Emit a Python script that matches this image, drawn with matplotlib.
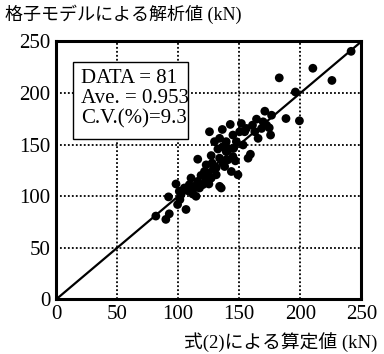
import matplotlib
matplotlib.use("Agg")
import matplotlib.pyplot as plt
from matplotlib.patches import Rectangle

# Data (kN)
calc_x = [81.7, 89.9, 92.7, 92.1, 98.2, 101.4, 106.4, 105.0, 107.8, 110.5,
          113.3, 114.6, 116.0, 118.7, 121.5, 122.9, 125.1, 127.0, 128.9, 131.1,
          133.9, 135.2, 111.9, 109.1, 102.3,
          116.0, 125.6, 127.0, 129.7, 132.5, 133.9, 136.1, 136.6, 138.0, 139.3,
          140.7, 142.6, 143.5, 144.8, 145.4, 146.8, 148.9, 150.3, 151.7, 153.1,
          154.4, 157.2, 159.1, 136.6, 131.1, 127.8, 139.3, 147.6,
          164.1, 165.4, 168.2, 170.9, 172.3, 174.5, 175.6, 176.4, 160.8, 155.8,
          188.2, 199.2, 195.9, 182.7, 210.2, 225.8, 241.5,
          100.9, 117.4, 120.1, 124.2, 122.9, 140.7, 133.9, 144.8, 162.7, 169.5, 99.5]
anal_y = [80.8, 77.6, 83.0, 99.4, 111.9, 96.8, 87.2, 108.0, 105.4, 117.6,
          108.0, 100.0, 114.4, 120.2, 124.0, 116.0, 111.9, 117.6, 126.6, 120.8,
          109.6, 108.0, 102.2, 111.2, 101.6,
          135.9, 162.5, 139.4, 152.9, 145.8, 136.9, 164.7, 132.1, 128.8, 143.3,
          135.3, 169.6, 124.0, 159.3, 146.5, 134.3, 120.8, 162.5, 170.5, 149.7,
          162.5, 136.9, 140.7, 148.1, 127.6, 132.1, 152.9, 152.9,
          174.7, 156.1, 165.7, 182.4, 168.9, 166.3, 159.3, 178.5, 168.9, 165.7,
          175.3, 173.1, 201.0, 214.7, 224.0, 212.2, 240.4,
          104.8, 108.0, 111.2, 122.4, 130.4, 146.5, 156.1, 138.5, 162.5, 172.1, 92.0]
ticks = [0, 50, 100, 150, 200, 250]
stats_lines = ["DATA = 81", "Ave. = 0.953", "C.V.(%)=9.3"]
xlabel = "式(2)による算定値 (kN)"
ylabel = "格子モデルによる解析値 (kN)"

fam = ['Liberation Serif', 'Noto Sans CJK JP']
plt.rcParams['font.family'] = fam

fig = plt.figure(figsize=(3.84, 3.54), dpi=100)
ax = fig.add_axes([0.1458, 0.154, 0.7956, 0.729])
ax.set_xlim(0, 250)
ax.set_ylim(0, 250)
ax.set_xticks(ticks)
ax.set_yticks(ticks)
ax.set_xticklabels([str(t) for t in ticks], fontsize=15)
ax.set_yticklabels([str(t) for t in ticks], fontsize=15)
ax.tick_params(length=0, pad=4)
ax.grid(True, color='black', linestyle=(0, (1, 1.2)), linewidth=1.3)
for s in ax.spines.values():
    s.set_linewidth(2.2)
ax.plot([0, 250], [0, 250], color='black', linewidth=1.6, zorder=3)
ax.scatter(calc_x, anal_y, s=40, color='black', edgecolors='none', zorder=4)

ax.add_patch(Rectangle((0.055, 0.622), 0.376, 0.300, transform=ax.transAxes,
                       facecolor='white', edgecolor='black', linewidth=1.0, zorder=5))
for i, line in enumerate(stats_lines):
    ax.text(0.081, 0.838 - i * 0.078, line, transform=ax.transAxes, fontsize=15,
            va='baseline', ha='left', zorder=6)

fig.text(0.012, 0.959, ylabel, fontsize=13, ha='left', va='center', family=fam)
fig.text(0.982, 0.034, xlabel, fontsize=13.5, ha='right', va='center', family=fam)

fig.savefig("out.png", dpi=100)
